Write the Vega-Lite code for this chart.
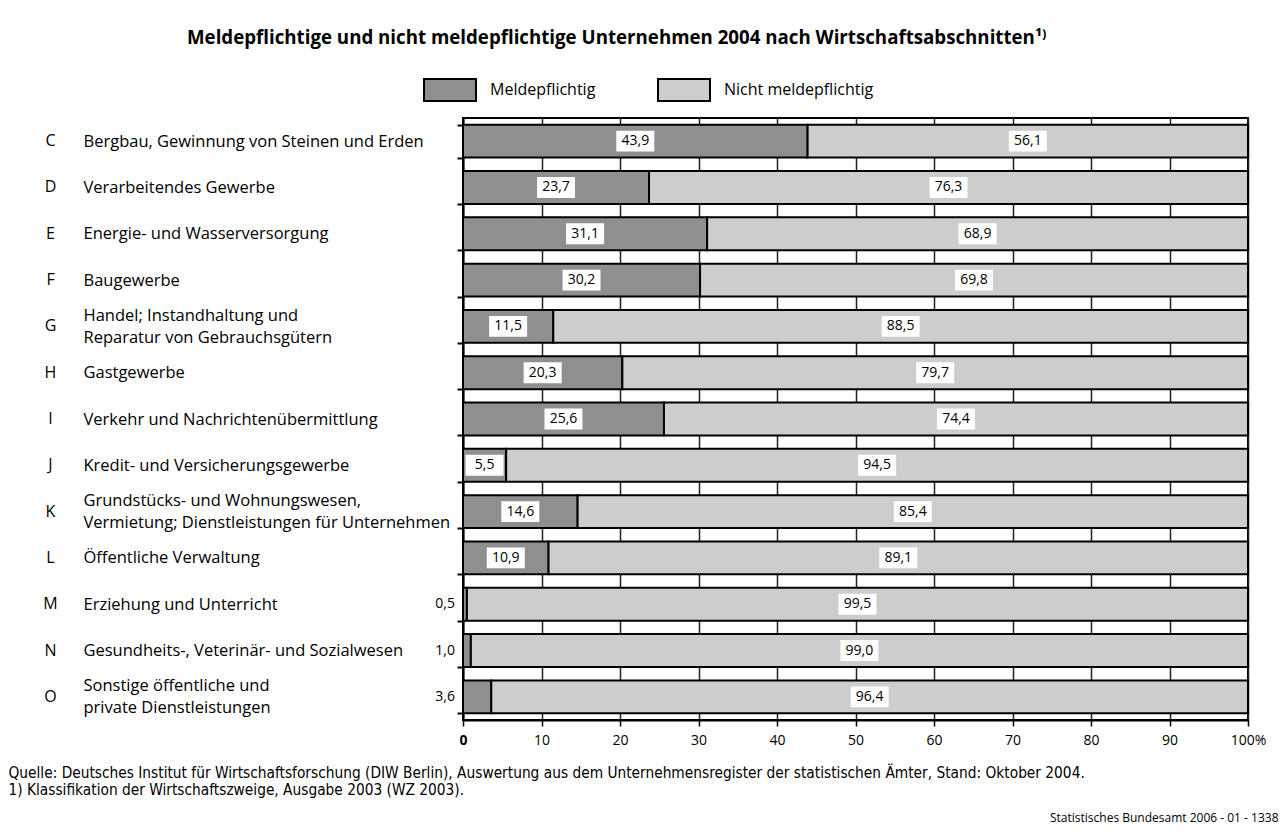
{
  "$schema": "https://vega.github.io/schema/vega-lite/v6.json",
  "width": 785,
  "height": 602,
  "autosize": {"type": "none"},
  "padding": {"left": 463, "top": 118, "right": 36, "bottom": 115},
  "background": "white",
  "title": {
    "text": "Meldepflichtige und nicht meldepflichtige Unternehmen 2004 nach Wirtschaftsabschnitten¹⁾",
    "anchor": "start",
    "frame": "group",
    "dx": -276,
    "offset": 15,
    "font": "Open Sans",
    "fontSize": 18.7,
    "fontWeight": "bold",
    "color": "black"
  },
  "config": {
    "locale": {"number": {"decimal": ",", "thousands": ".", "grouping": [3], "currency": ["", " €"]}},
    "view": {"stroke": "black", "strokeWidth": 2},
    "font": "Open Sans",
    "text": {"font": "Open Sans", "fontSize": 14, "color": "black"}
  },
  "data": {
    "values": [
      {"bereich": "C|Bergbau, Gewinnung von Steinen und Erden", "meld": 43.9, "nicht": 56.1},
      {"bereich": "D|Verarbeitendes Gewerbe", "meld": 23.7, "nicht": 76.3},
      {"bereich": "E|Energie- und Wasserversorgung", "meld": 31.1, "nicht": 68.9},
      {"bereich": "F|Baugewerbe", "meld": 30.2, "nicht": 69.8},
      {"bereich": "G|Handel; Instandhaltung und|Reparatur von Gebrauchsgütern", "meld": 11.5, "nicht": 88.5},
      {"bereich": "H|Gastgewerbe", "meld": 20.3, "nicht": 79.7},
      {"bereich": "I|Verkehr und Nachrichtenübermittlung", "meld": 25.6, "nicht": 74.4},
      {"bereich": "J|Kredit- und Versicherungsgewerbe", "meld": 5.5, "nicht": 94.5},
      {"bereich": "K|Grundstücks- und Wohnungswesen,|Vermietung; Dienstleistungen für Unternehmen", "meld": 14.6, "nicht": 85.4},
      {"bereich": "L|Öffentliche Verwaltung", "meld": 10.9, "nicht": 89.1},
      {"bereich": "M|Erziehung und Unterricht", "meld": 0.5, "nicht": 99.5},
      {"bereich": "N|Gesundheits-, Veterinär- und Sozialwesen", "meld": 1.0, "nicht": 99.0},
      {"bereich": "O|Sonstige öffentliche und|private Dienstleistungen", "meld": 3.6, "nicht": 96.4}
    ]
  },
  "layer": [
    {
      "mark": {"type": "bar", "stroke": "black", "strokeWidth": 2, "opacity": 1},
      "encoding": {
        "y": {
          "field": "bereich", "type": "nominal", "sort": null,
          "scale": {"paddingInner": 0.29, "paddingOuter": 0.145},
          "axis": {
            "orient": "left", "title": null, "grid": false,
            "domain": true, "domainColor": "black", "domainWidth": 2,
            "ticks": true, "tickBand": "extent", "tickSize": 6, "tickColor": "black", "tickWidth": 2,
            "labelExpr": "slice(split(datum.value, '|'), 1)",
            "labelAlign": "left", "labelPadding": 374, "labelFontSize": 16.5, "labelColor": "black",
            "labelOffset": {"condition": {"test": "length(split(datum.value, '|')) > 2", "value": -11}, "value": 0},
            "labelLineHeight": 22, "labelLimit": 500, "labelFont": "Open Sans"
          }
        },
        "x": {
          "field": "meld", "type": "quantitative",
          "scale": {"domain": [0, 100], "nice": false},
          "axis": {
            "orient": "bottom",
            "values": [0, 10, 20, 30, 40, 50, 60, 70, 80, 90, 100],
            "grid": true, "gridColor": "#222222", "gridWidth": 1.5,
            "domain": true, "domainColor": "black", "domainWidth": 2,
            "ticks": true, "tickSize": 6, "tickColor": "black", "tickWidth": 1.5,
            "labelExpr": "datum.value == 100 ? '100%' : datum.label",
            "labelFlush": false,
            "labelFontSize": 14, "labelColor": "black", "labelPadding": 7, "labelFont": "Open Sans",
            "labelFontWeight": {"condition": {"test": "datum.value == 0", "value": "bold"}, "value": "normal"},
            "title": [
              "Quelle: Deutsches Institut für Wirtschaftsforschung (DIW Berlin), Auswertung aus dem Unternehmensregister der statistischen Ämter, Stand: Oktober 2004.",
              "1) Klassifikation der Wirtschaftszweige, Ausgabe 2003 (WZ 2003)."
            ],
            "titleAlign": "left", "titleAnchor": "start", "titleX": -455, "titleY": 45,
            "titleBaseline": "top", "titleFont": "DejaVu Sans Condensed, Liberation Sans", "titleFontSize": 15.3,
            "titleFontWeight": "normal", "titleColor": "black", "titleLineHeight": 17
          }
        },
        "x2": {"datum": 0},
        "color": {
          "datum": "Meldepflichtig", "type": "nominal",
          "scale": {"domain": ["Meldepflichtig", "Nicht meldepflichtig"], "range": ["#8f8f8f", "#cdcdcd"]},
          "legend": {
            "orient": "none", "legendX": -40, "legendY": -55, "direction": "horizontal",
            "title": null, "padding": 0,
            "symbolType": "M-1,-0.42H1V0.42H-1Z", "symbolSize": 2704,
            "symbolStrokeColor": "black", "symbolStrokeWidth": 2, "symbolOpacity": 1,
            "labelFontSize": 16, "labelOffset": 13, "columnPadding": 58, "labelColor": "black",
            "labelFont": "Open Sans"
          }
        }
      }
    },
    {
      "mark": {"type": "bar", "stroke": "black", "strokeWidth": 2, "opacity": 1},
      "encoding": {
        "y": {"field": "bereich", "type": "nominal", "sort": null, "axis": null},
        "x": {"field": "meld", "type": "quantitative", "scale": {"domain": [0, 100], "nice": false}, "axis": null},
        "x2": {"datum": 100},
        "color": {"datum": "Nicht meldepflichtig", "type": "nominal"}
      }
    },
    {
      "transform": [{"filter": "datum.meld >= 5"}],
      "mark": {"type": "point", "shape": "M-1,-0.55H1V0.55H-1Z", "filled": true, "fill": "white", "opacity": 1, "strokeWidth": 0, "size": 1444},
      "encoding": {
        "y": {"field": "bereich", "type": "nominal", "sort": null, "axis": null},
        "x": {"field": "meld", "type": "quantitative", "scale": {"domain": [0, 200], "nice": false}, "axis": null}
      }
    },
    {
      "transform": [{"filter": "datum.meld >= 5"}],
      "mark": {"type": "text", "fontSize": 14, "color": "black"},
      "encoding": {
        "y": {"field": "bereich", "type": "nominal", "sort": null, "axis": null},
        "x": {"field": "meld", "type": "quantitative", "scale": {"domain": [0, 200], "nice": false}, "axis": null},
        "text": {"field": "meld", "type": "quantitative", "format": ".1f"}
      }
    },
    {
      "mark": {"type": "point", "shape": "M-1,-0.55H1V0.55H-1Z", "filled": true, "fill": "white", "opacity": 1, "strokeWidth": 0, "size": 1444},
      "encoding": {
        "y": {"field": "bereich", "type": "nominal", "sort": null, "axis": null},
        "x": {"field": "nicht", "type": "quantitative", "scale": {"domain": [0, 200], "nice": false, "reverse": true}, "axis": null}
      }
    },
    {
      "mark": {"type": "text", "fontSize": 14, "color": "black"},
      "encoding": {
        "y": {"field": "bereich", "type": "nominal", "sort": null, "axis": null},
        "x": {"field": "nicht", "type": "quantitative", "scale": {"domain": [0, 200], "nice": false, "reverse": true}, "axis": null},
        "text": {"field": "nicht", "type": "quantitative", "format": ".1f"}
      }
    },
    {
      "transform": [{"filter": "datum.meld < 5"}],
      "mark": {"type": "text", "fontSize": 14, "color": "black", "align": "right", "dx": -8},
      "encoding": {
        "y": {
          "field": "bereich", "type": "nominal", "sort": null,
          "axis": {
            "orient": "left", "title": null, "grid": false, "domain": false, "ticks": false, "tickSize": 0,
            "labelExpr": "split(datum.value, '|')[0]", "labelAlign": "center", "labelPadding": 413,
            "labelFontSize": 16, "labelColor": "black", "labelFont": "Open Sans"
          }
        },
        "x": {
          "datum": 0, "type": "quantitative", "scale": {"domain": [0, 100], "nice": false},
          "axis": {
            "orient": "bottom", "labels": false, "ticks": false, "domain": false, "grid": false,
            "title": "Statistisches Bundesamt 2006 - 01 - 1338",
            "titleAlign": "right", "titleAnchor": "end", "titleX": 815, "titleY": 97, "titleBaseline": "middle",
            "titleFont": "Open Sans", "titleFontSize": 12, "titleFontWeight": "normal", "titleColor": "black"
          }
        },
        "text": {"field": "meld", "type": "quantitative", "format": ".1f"}
      }
    }
  ],
  "resolve": {"scale": {"x": "independent"}, "axis": {"x": "independent", "y": "independent"}}
}
